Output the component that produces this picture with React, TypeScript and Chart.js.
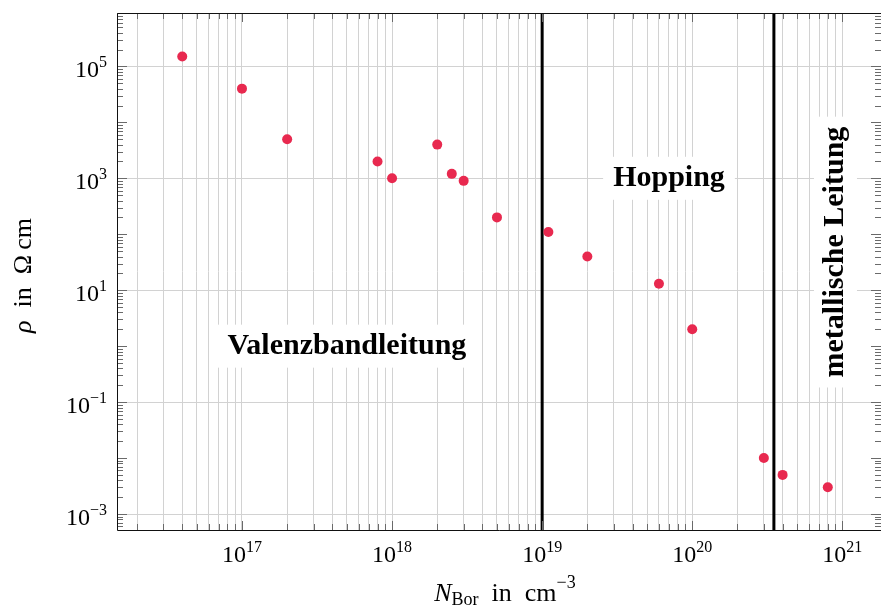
import { useEffect, useRef } from 'react';
import { Chart, registerables } from 'chart.js';

Chart.register(...registerables);

// Boron doping concentration (cm^-3) and measured resistivity (Ohm cm)
const borConcentration = [4e16, 1e17, 2e17, 8e17, 1e18, 2e18, 2.5e18, 3e18, 5e18, 1.1e19, 2e19, 6e19, 1e20, 3e20, 4e20, 8e20];
const resistivity = [1.5e5, 4e4, 5e3, 2e3, 1e3, 4e3, 1.2e3, 900, 200, 110, 40, 13, 2, 0.01, 0.005, 0.003];

// Axis ranges
const xMin = 1.47e16;
const xMax = 1.81e21;
const yMin = 5.18e-4;
const yMax = 9.0e5;

// Decades that carry a tick label
const xLabelExponents = [17, 18, 19, 20, 21];
const yLabelExponents = [-3, -1, 1, 3, 5];

// Transitions between the conduction regimes
const regimeBoundaries = [1e19, 3.5e20];

// Regime names and where they sit in data coordinates
const regimeNames = ['Valenzbandleitung', 'Hopping', 'metallische Leitung'];
const regimeNameX = [5e17, 7e19, 9e20];
const regimeNameY = [1, 1e3, 48];
const regimeNameRotated = [false, false, true];

const SERIF = '"Liberation Serif", "Times New Roman", serif';
const POINT_COLOR = '#e8294f';
const GRID_COLOR = '#d2d2d2';
const TICK_COLOR = '#6a6a6a';

type Run = { text: string; size: number; style?: string; weight?: string; dy?: number };

const fontOf = (r: Run) => `${r.style ?? 'normal'} ${r.weight ?? 'normal'} ${r.size}px ${SERIF}`;

function runsWidth(ctx: CanvasRenderingContext2D, runs: Run[]) {
  let w = 0;
  for (const r of runs) {
    ctx.font = fontOf(r);
    w += ctx.measureText(r.text).width;
  }
  return w;
}

function drawRuns(ctx: CanvasRenderingContext2D, runs: Run[], x: number, y: number, align: 'left' | 'center' | 'right') {
  const w = runsWidth(ctx, runs);
  let cx = align === 'left' ? x : align === 'center' ? x - w / 2 : x - w;
  ctx.textAlign = 'left';
  ctx.textBaseline = 'alphabetic';
  for (const r of runs) {
    ctx.font = fontOf(r);
    ctx.fillText(r.text, cx, y + (r.dy ?? 0));
    cx += ctx.measureText(r.text).width;
  }
}

const expText = (e: number) => (e < 0 ? '\u2212' + Math.abs(e) : String(e));
const powerRuns = (e: number): Run[] => [
  { text: '10', size: 24 },
  { text: expText(e), size: 16, dy: -10 },
];

// All 1..9 x 10^n positions inside [lo, hi]
function logTicks(lo: number, hi: number) {
  const out: { value: number; major: boolean }[] = [];
  for (let e = Math.floor(Math.log10(lo)); e <= Math.ceil(Math.log10(hi)); e++) {
    for (let k = 1; k < 10; k++) {
      const v = k * Math.pow(10, e);
      if (v >= lo && v <= hi) out.push({ value: v, major: k === 1 });
    }
  }
  return out;
}

const decorations = {
  id: 'decorations',
  beforeDatasetsDraw(chart: Chart) {
    const { ctx, chartArea: a } = chart;
    const xs = chart.scales.x;
    const ys = chart.scales.y;
    ctx.save();

    // regime boundaries
    ctx.strokeStyle = '#000';
    ctx.lineWidth = 3;
    for (const b of regimeBoundaries) {
      const px = xs.getPixelForValue(b);
      ctx.beginPath();
      ctx.moveTo(px, a.top);
      ctx.lineTo(px, a.bottom);
      ctx.stroke();
    }

    // regime names on white boxes
    for (let i = 0; i < regimeNames.length; i++) {
      const cx = xs.getPixelForValue(regimeNameX[i]);
      const cy = ys.getPixelForValue(regimeNameY[i]);
      const run: Run = { text: regimeNames[i], size: 30, weight: 'bold' };
      const w = runsWidth(ctx, [run]) + 20;
      const h = 43;
      ctx.save();
      ctx.translate(cx, cy);
      if (regimeNameRotated[i]) ctx.rotate(-Math.PI / 2);
      ctx.fillStyle = '#fff';
      ctx.fillRect(-w / 2, -h / 2, w, h);
      ctx.fillStyle = '#000';
      drawRuns(ctx, [run], 0, 8, 'center');
      ctx.restore();
    }
    ctx.restore();
  },
  afterDatasetsDraw(chart: Chart) {
    const { ctx, chartArea: a } = chart;
    const xs = chart.scales.x;
    const ys = chart.scales.y;
    ctx.save();

    // tick marks pointing inward
    ctx.strokeStyle = TICK_COLOR;
    ctx.lineWidth = 1;
    for (const t of xs.ticks) {
      const px = Math.round(xs.getPixelForValue(t.value)) + 0.5;
      const len = t.major ? 9 : 6;
      ctx.beginPath();
      ctx.moveTo(px, a.bottom);
      ctx.lineTo(px, a.bottom - len);
      ctx.moveTo(px, a.top);
      ctx.lineTo(px, a.top + len);
      ctx.stroke();
    }
    for (const t of ys.ticks) {
      const py = Math.round(ys.getPixelForValue(t.value)) + 0.5;
      const len = t.major ? 10 : 6;
      ctx.beginPath();
      ctx.moveTo(a.left, py);
      ctx.lineTo(a.left + len, py);
      ctx.moveTo(a.right, py);
      ctx.lineTo(a.right - len, py);
      ctx.stroke();
    }

    // axis frame
    ctx.strokeStyle = '#111';
    ctx.lineWidth = 1;
    ctx.beginPath();
    ctx.moveTo(a.right, a.top + 0.5);
    ctx.lineTo(a.left + 0.5, a.top + 0.5);
    ctx.lineTo(a.left + 0.5, a.bottom + 0.5);
    ctx.lineTo(a.right, a.bottom + 0.5);
    ctx.stroke();

    // tick labels
    ctx.fillStyle = '#000';
    for (const e of xLabelExponents) {
      const px = xs.getPixelForValue(Math.pow(10, e));
      drawRuns(ctx, powerRuns(e), px, a.bottom + 32, 'center');
    }
    for (const e of yLabelExponents) {
      const py = ys.getPixelForValue(Math.pow(10, e));
      drawRuns(ctx, powerRuns(e), a.left - 10, py + 11, 'right');
    }

    // axis titles
    drawRuns(
      ctx,
      [
        { text: 'N', size: 26, style: 'italic' },
        { text: 'Bor', size: 18, dy: 4 },
        { text: '  in  cm', size: 26 },
        { text: '\u22123', size: 18, dy: -13 },
      ],
      (a.left + a.right) / 2 + 6,
      601,
      'center'
    );
    ctx.save();
    ctx.translate(31, (a.top + a.bottom) / 2 + 4);
    ctx.rotate(-Math.PI / 2);
    drawRuns(
      ctx,
      [
        { text: '\u03c1', size: 26, style: 'italic' },
        { text: '  in  \u03a9\u2009cm', size: 26 },
      ],
      0,
      0,
      'center'
    );
    ctx.restore();
    ctx.restore();
  },
};

export default function App() {
  const canvasRef = useRef<HTMLCanvasElement | null>(null);

  useEffect(() => {
    const canvas = canvasRef.current;
    if (!canvas) return;
    const points = borConcentration.map((x, i) => ({ x, y: resistivity[i] }));
    const chart = new Chart(canvas, {
      type: 'scatter',
      data: {
        datasets: [
          {
            data: points,
            pointRadius: 5,
            pointHoverRadius: 5,
            pointBackgroundColor: POINT_COLOR,
            pointBorderWidth: 0,
            showLine: false,
          },
        ],
      },
      options: {
        responsive: false,
        animation: false,
        devicePixelRatio: 1,
        layout: { autoPadding: false, padding: { left: 117, top: 13, right: 0, bottom: 75 } },
        plugins: { legend: { display: false }, tooltip: { enabled: false } },
        scales: {
          x: {
            type: 'logarithmic',
            min: xMin,
            max: xMax,
            border: { display: false },
            grid: { color: GRID_COLOR, lineWidth: 1, drawTicks: false },
            ticks: { display: false, autoSkip: false },
            afterBuildTicks: (s: any) => {
              s.ticks = logTicks(xMin, xMax);
            },
          },
          y: {
            type: 'logarithmic',
            min: yMin,
            max: yMax,
            border: { display: false },
            grid: {
              drawTicks: false,
              lineWidth: 1,
              color: (c: any) => {
                const t = c.tick;
                if (!t || !t.major) return 'rgba(0,0,0,0)';
                const e = Math.round(Math.log10(t.value));
                return Math.abs(e) % 2 === 1 ? GRID_COLOR : 'rgba(0,0,0,0)';
              },
            },
            ticks: { display: false, autoSkip: false },
            afterBuildTicks: (s: any) => {
              s.ticks = logTicks(yMin, yMax);
            },
          },
        },
      },
      plugins: [decorations],
    });
    return () => chart.destroy();
  }, []);

  return (
    <div style={{ position: 'fixed', left: 0, top: 0, width: 881, height: 605, background: '#fff' }}>
      <canvas ref={canvasRef} width={881} height={605} style={{ display: 'block', width: 881, height: 605 }} />
    </div>
  );
}
